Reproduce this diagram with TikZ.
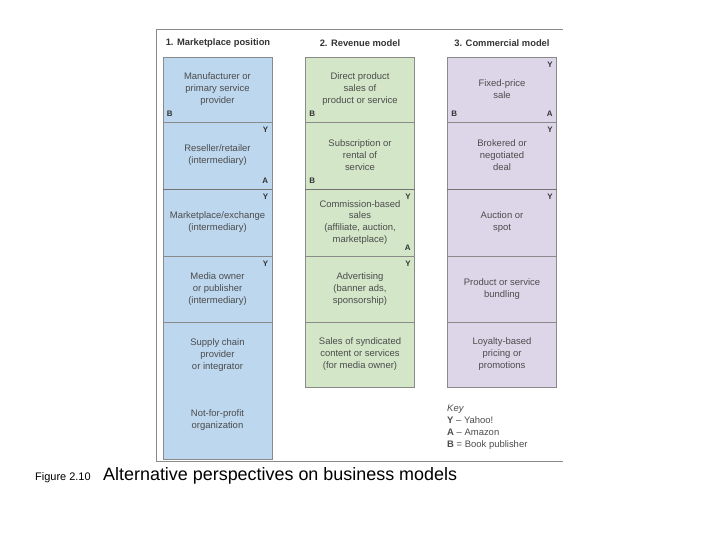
\documentclass[tikz,border=0pt]{standalone}
\usepackage{fontspec}
\setmainfont{Liberation Sans}
\definecolor{mktblue}{HTML}{BDD7EE}
\definecolor{revgreen}{HTML}{D3E6C8}
\definecolor{comlilac}{HTML}{DDD6E9}
\definecolor{rulegray}{HTML}{8A8A8A}
\begin{document}
\begin{tikzpicture}[x=1bp, y=-1bp,
    cell/.style={rectangle, draw=rulegray, line width=0.8pt, minimum width=109bp, inner sep=0pt,
                 align=center, font=\fontsize{9.5}{12}\selectfont, text=black!70},
    mkt/.style={cell, fill=mktblue},
    rev/.style={cell, fill=revgreen},
    com/.style={cell, fill=comlilac},
    head/.style={font=\fontsize{9.4}{11}\selectfont\bfseries, text=black!80},
    tag/.style={font=\fontsize{8}{9}\selectfont\bfseries, inner xsep=4bp, inner ysep=5.5bp, text=black!80},
    txt/.style={align=center, font=\fontsize{9.5}{12}\selectfont, text=black!70},
]
    \useasboundingbox (0,0) rectangle (720,540);

    % Frame
    \draw[rulegray, line width=0.9pt] (563,29) -- (156,29) -- (156,461) -- (563,461);

    % Headings
    \node[head] (h1) at (218,43) {1. Marketplace position};
    \node[head] (h2) at (360,43) {2. Revenue model};
    \node[head] (h3) at (502,43) {3. Commercial model};

    % 1. Marketplace position
    \node[mkt, minimum height=65bp] (m1) at (217.5,89.5) {Manufacturer or\\primary service\\provider};
    \node[mkt, minimum height=67bp] (m2) at (217.5,155.5) {Reseller/retailer\\(intermediary)};
    \node[mkt, minimum height=67bp] (m3) at (217.5,222.5) {Marketplace/exchange\\(intermediary)};
    \node[mkt, minimum height=66bp] (m4) at (217.5,289) {Media owner\\or publisher\\(intermediary)};
    \node[mkt, minimum height=137bp] (m5) at (217.5,390.5) {};
    \node[txt] (m5a) at (217.5,355) {Supply chain\\provider\\or integrator};
    \node[txt] (m5b) at (217.5,420) {Not-for-profit\\organization};

    % 2. Revenue model
    \node[rev, minimum height=65bp] (r1) at (360,89.5) {Direct product\\sales of\\product or service};
    \node[rev, minimum height=67bp] (r2) at (360,155.5) {Subscription or\\rental of\\service};
    \node[rev, minimum height=67bp] (r3) at (360,222.5) {Commission-based\\sales\\(affiliate, auction,\\marketplace)};
    \node[rev, minimum height=66bp] (r4) at (360,289) {Advertising\\(banner ads,\\sponsorship)};
    \node[rev, minimum height=65bp] (r5) at (360,354.5) {Sales of syndicated\\content or services\\(for media owner)};

    % 3. Commercial model
    \node[com, minimum height=65bp] (c1) at (502,89.5) {Fixed-price\\sale};
    \node[com, minimum height=67bp] (c2) at (502,155.5) {Brokered or\\negotiated\\deal};
    \node[com, minimum height=67bp] (c3) at (502,222.5) {Auction or\\spot};
    \node[com, minimum height=66bp] (c4) at (502,289) {Product or service\\bundling};
    \node[com, minimum height=65bp] (c5) at (502,354.5) {Loyalty-based\\pricing or\\promotions};

    % Heavier rule between second and third rows
    \draw[black!55, line width=1.6pt] (m2.south west) -- (m2.south east);
    \draw[black!55, line width=1.6pt] (r2.south west) -- (r2.south east);
    \draw[black!55, line width=1.6pt] (c2.south west) -- (c2.south east);

    % Company tags
    \node[tag, anchor=south west] at (m1.south west) {B};
    \node[tag, anchor=north east] at (m2.north east) {Y};
    \node[tag, anchor=south east] at (m2.south east) {A};
    \node[tag, anchor=north east] at (m3.north east) {Y};
    \node[tag, anchor=north east] at (m4.north east) {Y};
    \node[tag, anchor=south west] at (r1.south west) {B};
    \node[tag, anchor=south west] at (r2.south west) {B};
    \node[tag, anchor=north east] at (r3.north east) {Y};
    \node[tag, anchor=south east] at (r3.south east) {A};
    \node[tag, anchor=north east] at (r4.north east) {Y};
    \node[tag, anchor=north east] at (c1.north east) {Y};
    \node[tag, anchor=south west] at (c1.south west) {B};
    \node[tag, anchor=south east] at (c1.south east) {A};
    \node[tag, anchor=north east] at (c2.north east) {Y};
    \node[tag, anchor=north east] at (c3.north east) {Y};

    % Key
    \node[anchor=north west, inner sep=0pt, align=left, font=\fontsize{9.5}{12}\selectfont, text=black!70]
        (key) at (447,405) {\textit{Key}\\\textbf{Y} -- Yahoo!\\\textbf{A} -- Amazon\\\textbf{B} = Book publisher};

    % Caption
    \node[anchor=base west, inner sep=0pt, font=\fontsize{11}{13}\selectfont] (fig) at (35,480) {Figure 2.10};
    \node[anchor=base west, inner sep=0pt, font=\fontsize{18}{21}\selectfont] (cap) at (103,480) {Alternative perspectives on business models};
\end{tikzpicture}
\end{document}
